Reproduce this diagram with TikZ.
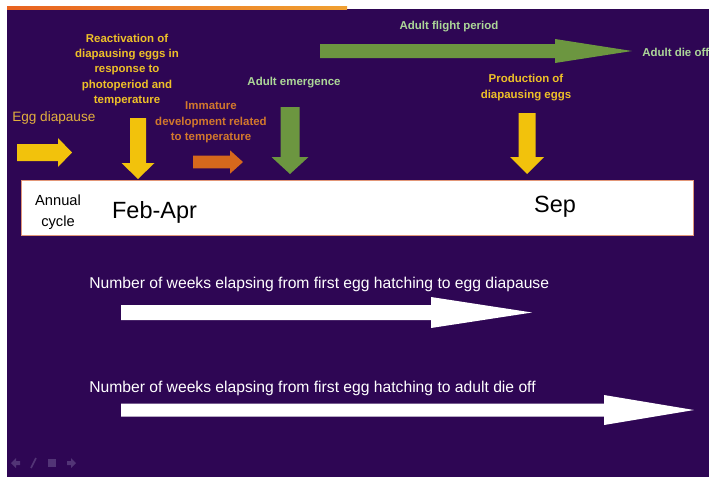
\documentclass[tikz,border=0pt]{standalone}
\usepackage{fontspec}
\setmainfont{Liberation Sans}
\definecolor{slidebg}{RGB}{46,6,84}
\definecolor{eggyellow}{RGB}{242,194,12}
\definecolor{txtyellow}{RGB}{238,192,40}
\definecolor{eggtext}{RGB}{226,176,62}
\definecolor{immorange}{RGB}{214,104,28}
\definecolor{immtext}{RGB}{210,120,44}
\definecolor{adultgreen}{RGB}{108,150,64}
\definecolor{adulttext}{RGB}{172,214,152}
\definecolor{boxedge}{RGB}{226,150,120}
\definecolor{navgrey}{RGB}{82,52,118}
\definecolor{topline}{RGB}{232,98,32}
\definecolor{toplineend}{RGB}{240,160,48}
\tikzset{
	lbl/.style={font=\bfseries\fontsize{8.6}{11.6}\selectfont, align=center, inner sep=0pt},
	wktext/.style={text=white, font=\fontsize{11.75}{13.5}\selectfont, anchor=west, inner sep=0pt},
	month/.style={text=black, font=\fontsize{17.6}{20}\selectfont, inner sep=0pt}
}
\begin{document}
\begin{tikzpicture}[x=0.75pt,y=-0.75pt]
			% Slide background
			\clip (0,0) rectangle (709,479);
			\fill[white] (0,0) rectangle (709,479);
			\fill[slidebg] (7,9) rectangle (709,477);
			\shade[left color=topline, right color=toplineend] (7,6.5) rectangle (347,9);
			
			% Annual cycle bar
			\draw[boxedge, fill=white, line width=0.6pt] (21,180) rectangle (693,235);
			\node[text=black, font=\fontsize{11}{15.5}\selectfont, align=center, inner sep=0pt] (annual) at (58,212.5) {Annual\\cycle};
			\node[month] (febapr) at (154.5,212) {Feb-Apr};
			\node[month] (sep) at (555,207) {Sep};
			
			% Right pointing arrows
			\foreach \xa/\xb/\xc/\yc/\ws/\wh/\col in {17/58/72/152.5/8.5/14.5/eggyellow, 193/230/243/162/6.3/11.7/immorange, 320/555/632/51/7/12/adultgreen, 121/431/532/312.5/7.5/15.5/white, 121/604/694/410/6.5/15/white} {
				\fill[\col] (\xa,\yc-\ws) -- (\xb,\yc-\ws) -- (\xb,\yc-\wh) -- (\xc,\yc) -- (\xb,\yc+\wh) -- (\xb,\yc+\ws) -- (\xa,\yc+\ws) -- cycle;
			}
			
			% Down pointing arrows
			\foreach \xc/\ws/\wh/\ya/\yb/\ye/\col in {138/8/16.5/118/163/179/eggyellow, 290/9.5/18.5/107/157/174/adultgreen, 527/8.5/17/113/157/174/eggyellow} {
				\fill[\col] (\xc-\ws,\ya) -- (\xc+\ws,\ya) -- (\xc+\ws,\yb) -- (\xc+\wh,\yb) -- (\xc,\ye) -- (\xc-\wh,\yb) -- (\xc-\ws,\yb) -- cycle;
			}
			
			% Stage labels
			\node[text=eggtext, font=\fontsize{10.2}{12}\selectfont, anchor=west, inner sep=0pt] (lblegg) at (12,118) {Egg diapause};
			\node[lbl, text=txtyellow] (lblreact) at (127,70) {Reactivation of\\diapausing eggs in\\response to\\photoperiod and\\temperature};
			\node[lbl, text=immtext] (lblimm) at (211,122.5) {Immature\\development related\\to temperature};
			\node[lbl, text=adulttext] (lblemerge) at (294,83) {Adult emergence};
			\node[lbl, text=adulttext] (lblflight) at (449,27) {Adult flight period};
			\node[lbl, text=adulttext, anchor=west] (lbldie) at (642,52) {Adult die off};
			\node[lbl, text=txtyellow] (lblprod) at (526,87.5) {Production of\\diapausing eggs};
			
			% Week counts
			\node[wktext] (wkdiap) at (89,284) {Number of weeks elapsing from first egg hatching to egg diapause};
			\node[wktext] (wkdie) at (89,388) {Number of weeks elapsing from first egg hatching to adult die off};
			
			% Slide controls
			\fill[navgrey] (11,463) -- (16,458) -- (16,461) -- (20,461) -- (20,465) -- (16,465) -- (16,468) -- cycle;
			\draw[navgrey, line width=1.2pt] (31,468) -- (36,458);
			\fill[navgrey] (48,459) rectangle (56,467);
			\fill[navgrey] (76,463) -- (71,458) -- (71,461) -- (67,461) -- (67,465) -- (71,465) -- (71,468) -- cycle;
		\end{tikzpicture}
\end{document}
